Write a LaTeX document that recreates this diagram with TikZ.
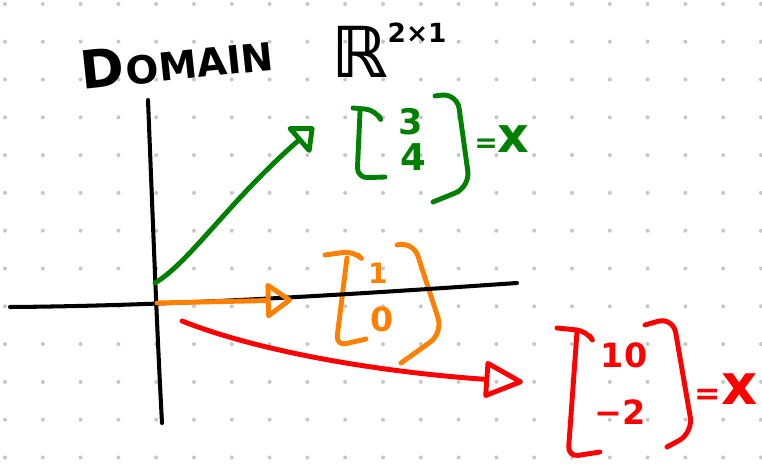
\documentclass[tikz,border=0pt]{standalone}
\usepackage{fontspec}
\setmainfont{DejaVu Sans}
\usetikzlibrary{arrows.meta}
\newcommand\fsz[1]{\fontsize{#1}{#1}\selectfont}
\definecolor{pengreen}{RGB}{0,128,0}
\definecolor{penorange}{RGB}{255,128,0}
\definecolor{penred}{RGB}{255,0,0}

\begin{document}
\begin{tikzpicture}[
  x=0.02cm, y=-0.02cm,
  gdot/.style={fill=black!22},
  pen/.style={line width=2.8pt, line cap=round, line join=round},
  axis/.style={pen, line width=2.3pt, black},
  brk/.style={pen, rounded corners=6pt},
  vec/.style={pen, -{Triangle[open, round, length=#1, width=22pt]}},
  vec/.default=16pt,
  hand/.style={inner sep=0pt, font=\bfseries}
]
\useasboundingbox (0,0) rectangle (762,465);

% dotted paper
\foreach \i in {0,...,20}
  \foreach \j in {0,...,12}
    \fill[gdot] ({5+37.8*\i},{3.9+37.8*\j}) circle (1.15pt);

% title
\node[hand, rotate=6, anchor=base west] (domain) at (82,90) {{\fsz{30}D}\kern1pt{\fsz{22}OMAIN}};
\node[hand, anchor=base west] (space) at (331,78) {{\fsz{40}ℝ}\raisebox{20pt}{\fsz{15}2×1}};

% orange label (under the axis)
\node[hand, penorange, font=\bfseries\fsz{16}] (o1) at (378,273) {1};
\node[hand, penorange, font=\bfseries\fsz{19}] (o0) at (382,319) {0};
\draw[brk, penorange] (325,255) -- (354,251) -- (358,255);
\draw[brk, penorange] (347,258) -- (336,346) -- (366,339);
\draw[brk, penorange, rounded corners=9pt] (397,245) -- (413,241) -- (443,333) -- (401,363);

% axes
\coordinate (ytop) at (148,100);
\coordinate (ybot) at (162,423);
\coordinate (xleft) at (10,307);
\coordinate (xright) at (517,283);
\draw[axis] (ytop) .. controls (154,250) and (157,330) .. (ybot);
\draw[axis] (xleft) .. controls (160,306) and (330,296) .. (xright);

% vectors
\coordinate (gstart) at (155,283);
\coordinate (gtip) at (314,127);
\coordinate (ostart) at (157,303);
\coordinate (otip) at (292,300);
\coordinate (rstart) at (182,321);
\coordinate (rtip) at (523,382);
\draw[vec=13pt, pengreen] (gstart) .. controls (190,262) and (230,200) .. (gtip);
\draw[vec, penorange] (ostart) -- (otip);
\draw[vec=24pt, penred] (rstart) .. controls (260,352) and (380,372) .. (rtip);

% green label
\node[hand, pengreen, font=\bfseries\fsz{20}] (g3) at (411,122) {3};
\node[hand, pengreen, font=\bfseries\fsz{21}] (g4) at (413,157) {4};
\node[hand, pengreen] (geq) at (502,139) {{\fsz{16}=}{\fsz{28}x}};
\draw[brk, pengreen] (353,108) -- (376,110) -- (379,116);
\draw[brk, pengreen] (360,112) -- (357,178) -- (385,177);
\draw[brk, pengreen, rounded corners=9pt] (435,96) -- (457,93) -- (470,187) -- (433,202);

% red label
\node[hand, penred, font=\bfseries\fsz{19}] (r10) at (624,355) {10};
\node[hand, penred, font=\bfseries\fsz{19}] (rm2) at (620,412) {−2};
\node[hand, penred] (req) at (726,389) {{\fsz{18}=}{\fsz{32}x}};
\draw[brk, penred] (557,328) -- (587,331) -- (590,336);
\draw[brk, penred] (577,332) -- (568,457) -- (600,452);
\draw[brk, penred, rounded corners=9pt] (645,325) -- (673,317) -- (693,433) -- (667,447);
\end{tikzpicture}
\end{document}
